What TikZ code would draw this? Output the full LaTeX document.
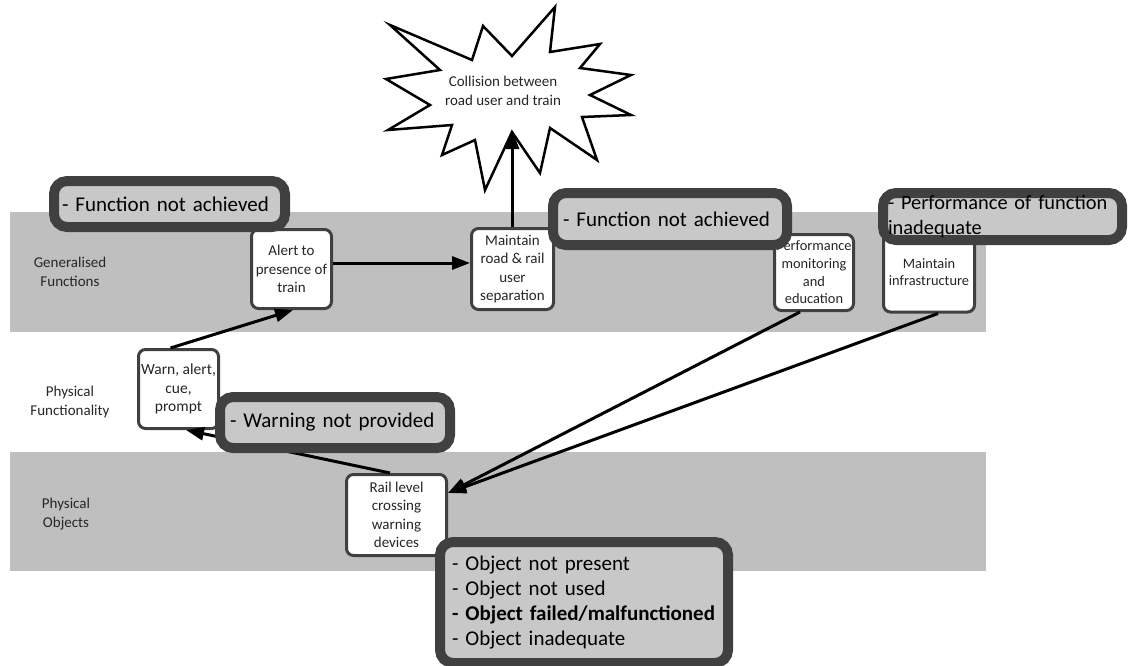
\documentclass[tikz,border=0pt]{standalone}
\usepackage{fontspec}
\setmainfont{Carlito}
\usepackage{tikz}
\usetikzlibrary{positioning,arrows.meta}
\usepackage{xcolor}
\definecolor{bandgray}{HTML}{BFBFBF}
\definecolor{edgegray}{HTML}{404040}
\definecolor{notegray}{HTML}{C8C8C8}
\definecolor{inkgray}{HTML}{262626}

\begin{document}
\begin{tikzpicture}[x=1pt, y=-1pt,
  fnbox/.style={draw=edgegray, line width=3pt, rounded corners=7pt, fill=white, text=inkgray,
    align=center, inner sep=0pt, font=\fontsize{15}{18.5}\selectfont},
  fault/.style={draw=edgegray, line width=10pt, rounded corners=13pt, fill=notegray, text=black,
    align=left, anchor=north west, inner ysep=0pt, font=\fontsize{21}{25}\selectfont},
  lbl/.style={text=inkgray, align=center, font=\fontsize{15}{19}\selectfont},
  link/.style={line width=3pt, -{Triangle[length=18pt, width=13pt]}}]
  \useasboundingbox (0,0) rectangle (1130,665);
  % layers
  \fill[bandgray] (10,212) rectangle (986,332);
  \fill[bandgray] (10,452) rectangle (986,571);
  \node[lbl] (gen) at (70,272) {Generalised\\Functions};
  \node[lbl] (phf) at (70,402) {Physical\\Functionality};
  \node[lbl] (pho) at (66,514) {Physical\\Objects};
  % accident
  \draw[line width=2.5pt, fill=white, line join=miter]
    (390,25) -- (472,60) -- (483,26) -- (512,56) -- (555,7) -- (550,52) -- (600,44)
    -- (580,68) -- (631,75) -- (590,95) -- (631,115) -- (582,117) -- (597,160)
    -- (550,128) -- (540,173) -- (512,132) -- (485,190) -- (475,140) -- (442,155)
    -- (452,125) -- (388,130) -- (430,105) -- (386,79) -- (440,70) -- cycle;
  \node[lbl] (crash) at (503,91) {Collision between\\road user and train};
  \coordinate (hit) at (512.5,131);
  % functions and objects
  \node[fnbox, minimum width=80pt, minimum height=79pt] (alert) at (291.5,269) {Alert to\\presence of\\train};
  \node[fnbox, minimum width=82pt, minimum height=81pt] (maintain) at (512.5,269) {Maintain\\road \& rail\\user\\separation};
  \node[fnbox, minimum width=79pt, minimum height=76pt, font=\fontsize{14.4}{17.7}\selectfont] (perf) at (814,272.5) {Performance\\monitoring\\and\\education};
  \node[fnbox, minimum width=91pt, minimum height=80pt, font=\fontsize{14.4}{17.7}\selectfont] (infra) at (929,272) {Maintain\\infrastructure};
  \node[fnbox, minimum width=80pt, minimum height=79pt, font=\fontsize{15.5}{18.5}\selectfont] (warn) at (178.5,389) {Warn, alert,\\cue,\\prompt};
  \node[fnbox, minimum width=100pt, minimum height=81pt] (rail) at (396.5,515) {Rail level\\crossing\\warning\\devices};
  % links
  \draw[link] ([yshift=6pt]alert.east) -- ([yshift=6pt]maintain.west);
  \draw[link] (maintain.north) -- (hit);
  \draw[link] ([xshift=-8pt]warn.north) -- ([xshift=1.5pt]alert.south);
  \draw[link] ([xshift=-6.5pt]rail.north) -- ([xshift=7.5pt]warn.south);
  \draw[link] ([xshift=-14pt]perf.south) -- ([yshift=22pt]rail.east);
  \draw[link] ([xshift=9pt]infra.south) -- ([yshift=22pt]rail.east);
  % failure modes
  \node[fault, text width=215pt, minimum height=46pt, inner xsep=8pt] (failA) at (49,176) {- Function not achieved};
  \node[fault, text width=214pt, minimum height=52pt, inner xsep=10pt] (failB) at (548,188) {- Function not achieved};
  \node[fault, text width=229pt, minimum height=47pt, inner xsep=5pt, font=\fontsize{20.4}{25}\selectfont] (perfC) at (878,188) {- Performance of function\\inadequate};
  \node[fault, text width=210pt, minimum height=51pt, inner xsep=10pt] (warnfail) at (215,392) {- Warning not provided};
  \node[fault, text width=264pt, minimum height=121pt, inner xsep=12pt] (objfail) at (435,537)
    {- Object not present\\- Object not used\\\textbf{- Object failed/malfunctioned}\\- Object inadequate};
\end{tikzpicture}
\end{document}
